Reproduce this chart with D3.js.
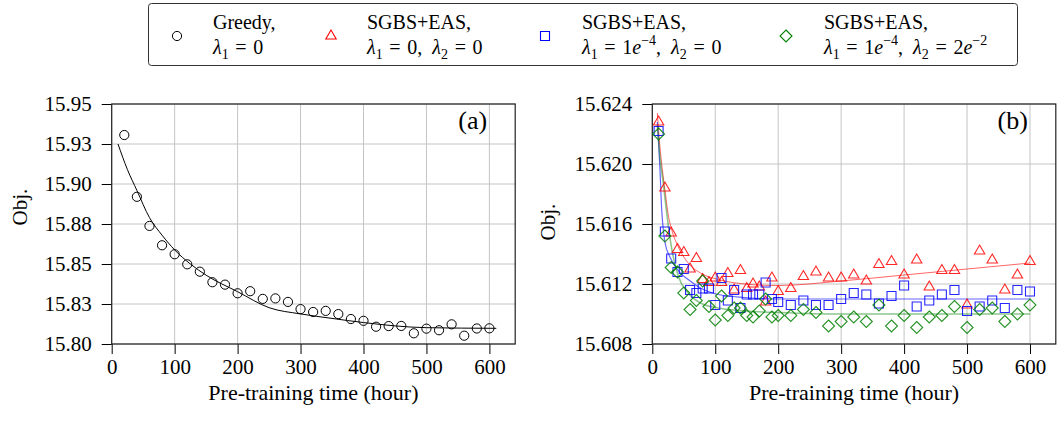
<html>
<head>
<meta charset="utf-8">
<script src="https://d3js.org/d3.v7.min.js"></script>
<style>
  body { margin: 0; background: #fff; }
  svg, svg text { font-family: "Liberation Serif", "DejaVu Serif", "Noto Serif", "Tinos", "Times New Roman", Times, "Nimbus Roman", FreeSerif, serif; }
</style>
</head>
<body>
<svg></svg>
<script>
// ---- panel (a): greedy ----
var greedyX = [20, 40, 60, 80, 100, 120, 140, 160, 180, 200, 220, 240, 260, 280, 300,
               320, 340, 360, 380, 400, 420, 440, 460, 480, 500, 520, 540, 560, 580, 600];
var greedyY = [15.9306, 15.892, 15.8738, 15.8617, 15.8561, 15.8498, 15.8452, 15.8386, 15.8371, 15.8317,
               15.833, 15.8282, 15.8285, 15.8263, 15.8218, 15.8200, 15.8207, 15.8187, 15.8156, 15.8145,
               15.8108, 15.8112, 15.8113, 15.8067, 15.8096, 15.8086, 15.8123, 15.8052, 15.8097, 15.8098];
// fitted curve
var greedyFitX = [10, 25, 40, 60, 80, 100, 125, 150, 200, 250, 300, 350, 400, 500, 611];
var greedyFitY = [15.925, 15.909, 15.896, 15.879, 15.868, 15.8588, 15.850, 15.843, 15.8327, 15.8227,
                  15.8188, 15.816, 15.8134, 15.8102, 15.8098];

// ---- panel (b): SGBS+EAS ----
var timeB = [10, 20, 30, 40, 50, 60, 70, 80, 90, 100, 110, 120, 130, 140, 150, 160, 170, 180, 190,
             200, 220, 240, 260, 280, 300, 320, 340, 360, 380, 400, 420, 440, 460, 480, 500, 520, 540, 560, 580, 600];
var redY = [15.6228, 15.6184, 15.6154, 15.6143, 15.6141, 15.6130, 15.6137, 15.6123, 15.6121, 15.6124,
            15.6121, 15.6127, 15.6116, 15.6129, 15.6117, 15.6120, 15.6118, 15.6108, 15.6124,
            15.6115, 15.6117, 15.6125, 15.6128, 15.6124, 15.6124, 15.6126, 15.6122, 15.6133, 15.6135, 15.6126,
            15.6136, 15.6118, 15.6129, 15.6129, 15.6106, 15.6142, 15.6136, 15.6116, 15.6126, 15.6135];
var blueY = [15.6222, 15.6155, 15.6137, 15.6128, 15.6130, 15.6116, 15.6114, 15.6117, 15.6117, 15.6106,
             15.6124, 15.6109, 15.6116, 15.6104, 15.6113, 15.6113, 15.6113, 15.6121, 15.6110,
             15.6108, 15.6106, 15.6109, 15.6106, 15.6106, 15.6110, 15.6114, 15.6113, 15.6107, 15.6112, 15.6119,
             15.6105, 15.6109, 15.6113, 15.6116, 15.6102, 15.6105, 15.6109, 15.6104, 15.6116, 15.6115];
var greenY = [15.6220, 15.6152, 15.6131, 15.6128, 15.6114, 15.6103, 15.6109, 15.6122, 15.6105, 15.6096,
              15.6112, 15.6099, 15.6104, 15.6104, 15.6099, 15.6098, 15.6102, 15.6110, 15.6098,
              15.6099, 15.6099, 15.6103, 15.6101, 15.6092, 15.6095, 15.6098, 15.6095, 15.6106, 15.6092, 15.6099,
              15.6091, 15.6098, 15.6099, 15.6105, 15.6091, 15.6103, 15.6104, 15.6095, 15.6100, 15.6106];
var redFitX = [8, 12, 16, 20, 25, 31, 41, 57, 78, 105, 147, 200, 300, 400, 500, 600];
var redFitY = [15.6234, 15.6212, 15.6196, 15.6183, 15.6167, 15.6156, 15.6145, 15.6134, 15.6127, 15.6123,
               15.6120, 15.6119, 15.6122, 15.6126, 15.6130, 15.6134];
var blueFitX = [8, 10, 12, 15, 17.5, 20, 28, 41, 57, 78, 105, 147, 200, 300, 600];
var blueFitY = [15.6228, 15.6214, 15.6198, 15.6169, 15.6156, 15.6148, 15.6138, 15.6129, 15.6123, 15.6117,
                15.6113, 15.6111, 15.6110, 15.6110, 15.6110];
var greenFitX = [8, 12, 17.5, 23, 31, 41.5, 57, 78, 105, 147, 200, 300, 600];
var greenFitY = [15.6226, 15.6205, 15.6187, 15.6167, 15.6143, 15.6125, 15.6114, 15.6107, 15.6104, 15.6102,
                 15.6101, 15.6100, 15.6100];

// ---- ticks ----
var xTicks = [0, 100, 200, 300, 400, 500, 600];
var yTicksA = [15.80, 15.825, 15.85, 15.875, 15.90, 15.925, 15.95];
var yTickLabelsA = ["15.80", "15.83", "15.85", "15.88", "15.90", "15.93", "15.95"];
var yTicksB = [15.608, 15.612, 15.616, 15.620, 15.624];
var yTickLabelsB = ["15.608", "15.612", "15.616", "15.620", "15.624"];

var legendNames = ["Greedy,", "SGBS+EAS,", "SGBS+EAS,", "SGBS+EAS,"];

var serif = '"Liberation Serif", "DejaVu Serif", "Noto Serif", "Tinos", "Times New Roman", Times, serif';
var width = 1057, height = 422;
var svg = d3.select("svg").attr("width", width).attr("height", height)
  .attr("font-family", serif);
svg.append("rect").attr("width", width).attr("height", height).attr("fill", "#fff");

var top_ = 104, bottom = 344, plotW = 403.5;

function zip(xs, ys) {
  return xs.map(function(d, i) { return [d, ys[i]]; });
}

function panel(left, yDomain, yTicks, yLabels, letter, objX, objY) {
  var x = d3.scaleLinear().domain([0, 641]).range([left, left + plotW]);
  var y = d3.scaleLinear().domain(yDomain).range([bottom, top_]);
  var g = svg.append("g");

  // grid
  g.selectAll(".vg").data(xTicks).enter().append("line")
    .attr("x1", function(d) { return x(d); }).attr("x2", function(d) { return x(d); })
    .attr("y1", top_).attr("y2", bottom)
    .attr("stroke", "#c4c4c4").attr("stroke-width", 1);
  g.selectAll(".hg").data(yTicks).enter().append("line")
    .attr("x1", left).attr("x2", left + plotW)
    .attr("y1", function(d) { return y(d); }).attr("y2", function(d) { return y(d); })
    .attr("stroke", "#c4c4c4").attr("stroke-width", 1);

  // axes
  var ax = g.append("g").attr("transform", "translate(0," + bottom + ")")
    .call(d3.axisBottom(x).tickValues(xTicks).tickSize(10).tickPadding(5).tickFormat(d3.format("d")));
  var ay = g.append("g").attr("transform", "translate(" + left + ",0)")
    .call(d3.axisLeft(y).tickValues(yTicks).tickSize(10).tickPadding(10)
      .tickFormat(function(d, i) { return yLabels[i]; }));
  [ax, ay].forEach(function(a) {
    a.attr("font-family", serif).attr("font-size", 21);
    a.select(".domain").remove();
    a.selectAll("line").attr("stroke", "#000");
    a.selectAll("text").attr("fill", "#000");
  });

  // frame
  g.append("rect").attr("x", left).attr("y", top_).attr("width", plotW).attr("height", bottom - top_)
    .attr("fill", "none").attr("stroke", "#222").attr("stroke-width", 1.2);

  g.append("text").attr("x", left + plotW - 28).attr("y", 129)
    .attr("text-anchor", "end").attr("font-size", 26).text(letter);
  g.append("text").attr("x", left + plotW / 2).attr("y", 400)
    .attr("text-anchor", "middle").attr("font-size", 22).text("Pre-training time (hour)");
  g.append("text").attr("transform", "translate(" + objX + "," + objY + ") rotate(-90)")
    .attr("text-anchor", "middle").attr("font-size", 21).text("Obj.");

  return { x: x, y: y, g: g };
}

var triPath = "M0,-6L5.2,3L-5.2,3Z";
var sqPath = "M-4.5,-4.5H4.5V4.5H-4.5Z";
var diaPath = "M0,-6L6,0L0,6L-6,0Z";

// ---- panel (a) ----
var A = panel(111.7, [15.80, 15.95], yTicksA, yTickLabelsA, "(a)", 27, 207);
A.g.append("path").datum(zip(greedyFitX, greedyFitY))
  .attr("fill", "none").attr("stroke", "#000").attr("stroke-width", 1)
  .attr("d", d3.line().curve(d3.curveMonotoneX)
    .x(function(d) { return A.x(d[0]); }).y(function(d) { return A.y(d[1]); }));
A.g.selectAll(".gc").data(zip(greedyX, greedyY)).enter().append("circle")
  .attr("cx", function(d) { return A.x(d[0]); }).attr("cy", function(d) { return A.y(d[1]); })
  .attr("r", 4.6).attr("fill", "none").attr("stroke", "#000").attr("stroke-width", 1);

// ---- panel (b) ----
var B = panel(652.3, [15.608, 15.624], yTicksB, yTickLabelsB, "(b)", 555, 222);
var series = [
  { ys: redY, fx: redFitX, fy: redFitY, color: "#ff0000", line: "rgba(255,0,0,0.6)", lw: 1, mark: triPath },
  { ys: blueY, fx: blueFitX, fy: blueFitY, color: "#0000ff", line: "rgba(0,0,255,0.6)", lw: 1.2, mark: sqPath },
  { ys: greenY, fx: greenFitX, fy: greenFitY, color: "#008000", line: "rgba(0,128,0,0.45)", lw: 1.6, mark: diaPath }
];
series.forEach(function(s) {
  B.g.append("path").datum(zip(s.fx, s.fy))
    .attr("fill", "none").attr("stroke", s.line).attr("stroke-width", s.lw)
    .attr("d", d3.line().curve(d3.curveMonotoneX)
      .x(function(d) { return B.x(d[0]); }).y(function(d) { return B.y(d[1]); }));
});
series.forEach(function(s) {
  B.g.append("g").selectAll("path").data(zip(timeB, s.ys)).enter().append("path")
    .attr("d", s.mark)
    .attr("transform", function(d) { return "translate(" + B.x(d[0]) + "," + B.y(d[1]) + ")"; })
    .attr("fill", "none").attr("stroke", s.color).attr("stroke-opacity", 0.85).attr("stroke-width", 1.1);
});

// ---- legend ----
var leg = svg.append("g");
leg.append("rect").attr("x", 148.5).attr("y", 3.5).attr("width", 869).attr("height", 62).attr("rx", 3)
  .attr("fill", "#fff").attr("stroke", "#333").attr("stroke-width", 1);

var legMarkX = [177, 331, 545, 786];
var legTextX = [213, 367, 582, 824];
var eq = "\u2004=\u2004";
// second line pieces: [text, style]
var legMath = [
  [["λ", "i"], ["1", "sub"], [eq + "0", ""]],
  [["λ", "i"], ["1", "sub"], [eq + "0,  ", ""], ["λ", "i"], ["2", "sub"], [eq + "0", ""]],
  [["λ", "i"], ["1", "sub"], [eq + "1", ""], ["e", "i"], ["−4", "sup"], [",  ", ""], ["λ", "i"], ["2", "sub"], [eq + "0", ""]],
  [["λ", "i"], ["1", "sub"], [eq + "1", ""], ["e", "i"], ["−4", "sup"], [",  ", ""], ["λ", "i"], ["2", "sub"], [eq + "2", ""], ["e", "i"], ["−2", "sup"]]
];
leg.append("circle").attr("cx", legMarkX[0]).attr("cy", 36).attr("r", 4.6)
  .attr("fill", "none").attr("stroke", "#000");
[triPath, sqPath, diaPath].forEach(function(p, i) {
  leg.append("path").attr("d", p).attr("transform", "translate(" + legMarkX[i + 1] + ",36)")
    .attr("fill", "none").attr("stroke", series[i].color).attr("stroke-width", 1.1);
});
legendNames.forEach(function(n, i) {
  leg.append("text").attr("x", legTextX[i]).attr("y", 29).attr("font-size", 20).text(n);
  var t = leg.append("text").attr("x", legTextX[i]).attr("y", 54).attr("font-size", 20)
    .attr("xml:space", "preserve");
  var shift = 0;
  legMath[i].forEach(function(p) {
    var target = p[1] === "sub" ? 5 : (p[1] === "sup" ? -9 : 0);
    var ts = t.append("tspan").attr("dy", target - shift).text(p[0]);
    shift = target;
    if (p[1] === "i") ts.attr("font-style", "italic");
    if (p[1] === "sub" || p[1] === "sup") ts.attr("font-size", 14);
  });
});
</script>
</body>
</html>
